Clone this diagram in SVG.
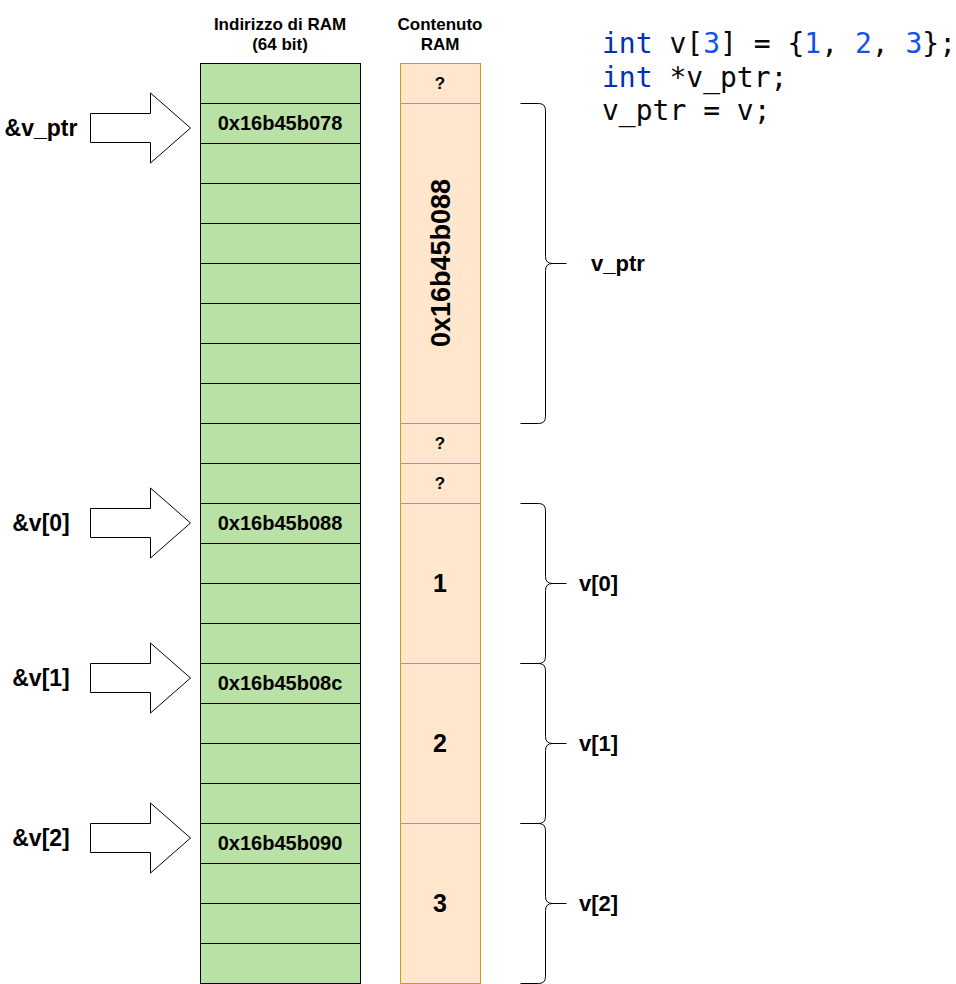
<svg xmlns="http://www.w3.org/2000/svg" width="956" height="984" viewBox="0 0 956 984">
<style>
.g{fill:#b9e0a5;stroke:#000;stroke-width:1}
.o{fill:#ffe6cc;stroke:#d79b00;stroke-width:1}
.t{font-family:"Liberation Sans",Arial,sans-serif;font-weight:bold;fill:#000;text-anchor:middle}
.l{font-family:"Liberation Sans",Arial,sans-serif;font-weight:bold;fill:#000}
.arr{fill:#fff;stroke:#000;stroke-width:1}
.br{fill:none;stroke:#000;stroke-width:1}
.code{font-family:"DejaVu Sans Mono","Liberation Mono",monospace;font-size:28px;fill:#080808}
.kw{fill:#0033b3}
.num{fill:#1750eb}
</style>
<rect width="956" height="984" fill="#fff"/>
<g id="headers">
<text class="t" x="280" y="29.5" font-size="17">Indirizzo di RAM</text>
<text class="t" x="280" y="49.5" font-size="17">(64 bit)</text>
<text class="t" x="440" y="29.5" font-size="17">Contenuto</text>
<text class="t" x="440" y="49.5" font-size="17">RAM</text>
</g>
<g id="address-column">
<g transform="translate(0.5,0.5)">
<rect class="g" x="200" y="63" width="160" height="40"/>
<rect class="g" x="200" y="103" width="160" height="40"/>
<rect class="g" x="200" y="143" width="160" height="40"/>
<rect class="g" x="200" y="183" width="160" height="40"/>
<rect class="g" x="200" y="223" width="160" height="40"/>
<rect class="g" x="200" y="263" width="160" height="40"/>
<rect class="g" x="200" y="303" width="160" height="40"/>
<rect class="g" x="200" y="343" width="160" height="40"/>
<rect class="g" x="200" y="383" width="160" height="40"/>
<rect class="g" x="200" y="423" width="160" height="40"/>
<rect class="g" x="200" y="463" width="160" height="40"/>
<rect class="g" x="200" y="503" width="160" height="40"/>
<rect class="g" x="200" y="543" width="160" height="40"/>
<rect class="g" x="200" y="583" width="160" height="40"/>
<rect class="g" x="200" y="623" width="160" height="40"/>
<rect class="g" x="200" y="663" width="160" height="40"/>
<rect class="g" x="200" y="703" width="160" height="40"/>
<rect class="g" x="200" y="743" width="160" height="40"/>
<rect class="g" x="200" y="783" width="160" height="40"/>
<rect class="g" x="200" y="823" width="160" height="40"/>
<rect class="g" x="200" y="863" width="160" height="40"/>
<rect class="g" x="200" y="903" width="160" height="40"/>
<rect class="g" x="200" y="943" width="160" height="40"/>
</g>
<text class="t" x="280" y="130" font-size="20">0x16b45b078</text>
<text class="t" x="280" y="530" font-size="20">0x16b45b088</text>
<text class="t" x="280" y="690" font-size="20">0x16b45b08c</text>
<text class="t" x="280" y="850" font-size="20">0x16b45b090</text>
</g>
<g id="content-column">
<g id="cell-q1"><rect class="o" x="400.5" y="63.5" width="80" height="40"/><text class="t" x="440" y="89" font-size="17">?</text></g>
<g id="cell-vptr"><rect class="o" x="400.5" y="103.5" width="80" height="320"/><text class="t" transform="translate(440,263) rotate(-90)" x="0" y="10" font-size="27">0x16b45b088</text></g>
<g id="cell-q2"><rect class="o" x="400.5" y="423.5" width="80" height="40"/><text class="t" x="440" y="449" font-size="17">?</text></g>
<g id="cell-q3"><rect class="o" x="400.5" y="463.5" width="80" height="40"/><text class="t" x="440" y="489" font-size="17">?</text></g>
<g id="cell-v0"><rect class="o" x="400.5" y="503.5" width="80" height="160"/><text class="t" x="440" y="592" font-size="25">1</text></g>
<g id="cell-v1"><rect class="o" x="400.5" y="663.5" width="80" height="160"/><text class="t" x="440" y="752" font-size="25">2</text></g>
<g id="cell-v2"><rect class="o" x="400.5" y="823.5" width="80" height="160"/><text class="t" x="440" y="912" font-size="25">3</text></g>
</g>
<g id="pointer-labels">
<text class="t" x="41" y="136" font-size="23">&amp;v_ptr</text>
<text class="t" x="41" y="531" font-size="23">&amp;v[0]</text>
<text class="t" x="41" y="686" font-size="23">&amp;v[1]</text>
<text class="t" x="41" y="846" font-size="23">&amp;v[2]</text>
</g>
<g id="connectors" transform="translate(0.5,0)">
<polygon class="arr" points="90,113.5 150,113.5 150,93 190,128 150,163 150,142.5 90,142.5"/>
<polygon class="arr" points="90,508.5 150,508.5 150,488 190,523 150,558 150,537.5 90,537.5"/>
<polygon class="arr" points="90,663.5 150,663.5 150,643 190,678 150,713 150,692.5 90,692.5"/>
<polygon class="arr" points="90,823.5 150,823.5 150,803 190,838 150,873 150,852.5 90,852.5"/>
</g>
<g id="braces">
<g transform="translate(0.5,0.5)">
<path class="br" d="M520,103 H538 Q545,103 545,110 V256 Q545,263 552,263 Q545,263 545,270 V416 Q545,423 538,423 H520 M552,263 H566"/>
<path class="br" d="M520,503 H538 Q545,503 545,510 V576 Q545,583 552,583 Q545,583 545,590 V656 Q545,663 538,663 H520 M552,583 H566"/>
<path class="br" d="M520,663 H538 Q545,663 545,670 V736 Q545,743 552,743 Q545,743 545,750 V816 Q545,823 538,823 H520 M552,743 H566"/>
<path class="br" d="M520,823 H538 Q545,823 545,830 V896 Q545,903 552,903 Q545,903 545,910 V976 Q545,983 538,983 H520 M552,903 H566"/>
</g>
<text class="l" x="591" y="271" font-size="22">v_ptr</text>
<text class="l" x="579" y="591" font-size="22">v[0]</text>
<text class="l" x="579" y="751" font-size="22">v[1]</text>
<text class="l" x="579" y="911" font-size="22">v[2]</text>
</g>
<g id="code">
<text class="code" x="602" y="53"><tspan class="kw">int</tspan> v[<tspan class="num">3</tspan>] = {<tspan class="num">1</tspan>, <tspan class="num">2</tspan>, <tspan class="num">3</tspan>};</text>
<text class="code" x="602" y="86.5"><tspan class="kw">int</tspan> *v_ptr;</text>
<text class="code" x="602" y="120">v_ptr = v;</text>
</g>
</svg>
